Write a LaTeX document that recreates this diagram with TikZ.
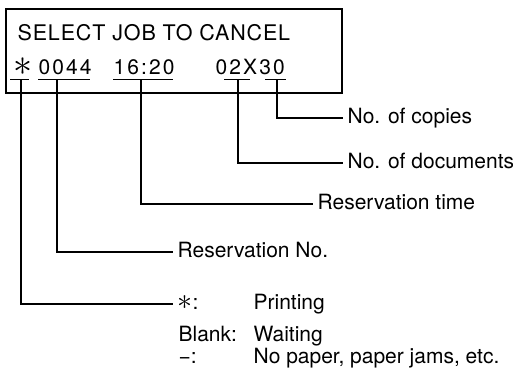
\documentclass[tikz,border=0pt]{standalone}
\usepackage{fontspec}
\setmainfont{TeX Gyre Heros}
\usetikzlibrary{positioning}
\tikzset{every picture/.style={line width=1.2pt}}

\begin{document}
\begin{tikzpicture}[x=1pt,y=-1pt,
    lcd/.style={inner sep=0pt,anchor=base west,font=\fontsize{21}{25}\selectfont\addfontfeature{LetterSpace=10}},
    lbl/.style={anchor=west,inner xsep=4pt,inner ysep=0pt,text height=15.5pt,text depth=4.5pt,font=\fontsize{21}{25}\selectfont},
    txt/.style={anchor=base west,inner sep=0pt,font=\fontsize{21}{25}\selectfont},
    uline/.style={line width=1.3pt}]
    \useasboundingbox (0,0) rectangle (513,374);
    % display
    \draw[line width=1.5pt] (6,9) rectangle (342,93);
    \node[lcd,font=\fontsize{21.5}{25}\selectfont\addfontfeature{LetterSpace=4}] (title) at (17,40.5) {SELECT JOB TO CANCEL};
    \node[inner sep=0pt] (star) at (23,66.5) {\resizebox{19pt}{!}{$\ast$}};
    \node[lcd] (jobno) at (38,75) {0044};
    \node[lcd] (jobtime) at (113,75) {16:20};
    \node[lcd] (jobpages) at (215,75) {02X30};
    % underlines
    \draw[uline] (10,79.5) -- (29,79.5);
    \draw[uline] (38,79.5) -- (90,79.5);
    \draw[uline] (113,79.5) -- (173,79.5);
    \draw[uline] (224,79.5) -- (250,79.5);
    \draw[uline] (265,79.5) -- (286,79.5);
    \coordinate (ustar) at (21,79.5);
    \coordinate (uno) at (57,79.5);
    \coordinate (utime) at (141,79.5);
    \coordinate (udocs) at (238,79.5);
    \coordinate (ucopies) at (277,79.5);
    % labels
    \node[lbl] (copies) at (343,118) {No. of copies};
    \node[lbl] (docs) at (343,163) {No. of documents};
    \node[lbl] (restime) at (313,204) {Reservation time};
    \node[lbl] (resno) at (173,252) {Reservation No.};
    \node[lbl] (printkey) at (173,304) {\resizebox{15pt}{!}{$\ast$}:};
    \node[txt] (printing) at (253,309.5) {Printing};
    \node[txt] (blankkey) at (178,341) {Blank:};
    \node[txt] (waiting) at (253,341) {Waiting};
    \node[txt] (dashkey) at (178,363) {−:};
    \node[txt] (nopaper) at (253,363) {No paper, paper jams, etc.};
    % connectors
    \draw (ucopies) |- (copies.west);
    \draw (udocs) |- (docs.west);
    \draw (utime) |- (restime.west);
    \draw (uno) |- (resno.west);
    \draw (ustar) |- (printkey.west);
\end{tikzpicture}
\end{document}
